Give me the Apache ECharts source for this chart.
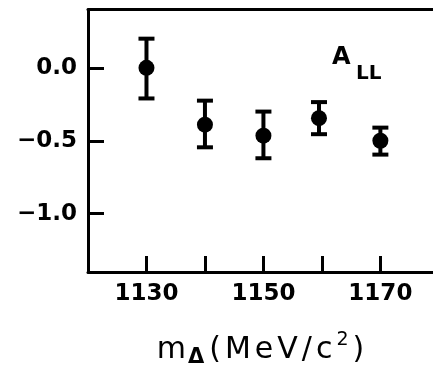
<!doctype html>
<html>
<head>
<meta charset="utf-8">
<title>A_LL vs mass</title>
<style>
html, body { margin: 0; padding: 0; background: #fff; }
#chart { width: 433px; height: 372px; }
</style>
</head>
<body>
<div id="chart"></div>
<script src="https://cdn.jsdelivr.net/npm/echarts@6/dist/echarts.min.js"></script>
<script>
// data
const mass = [1130, 1140, 1150, 1159.5, 1170];
const asym = [0.0, -0.39, -0.465, -0.345, -0.50];
const errLow = [-0.21, -0.545, -0.62, -0.455, -0.595];
const errHigh = [0.20, -0.225, -0.30, -0.235, -0.41];
const xTicks = [1130, 1140, 1150, 1160, 1170];
const xLabels = [1130, 1150, 1170];
const yTicks = [-1.0, -0.5, 0.0];

const font = 'DejaVu Sans';
const ink = '#000';

const chart = echarts.init(document.getElementById('chart'));

// axis title, letters spaced a little like the hand lettering
const nameStyle = { fontFamily: font, fontSize: 30, color: ink, lineHeight: 36, padding: [0, 2] };

chart.setOption({
    animation: false,
    grid: { left: 88, top: 9.5, right: 0, bottom: 100, outerBoundsMode: 'none', containLabel: false },
    xAxis: [{
        type: 'value',
        min: 1120,
        max: 1179,
        axisLine: { onZero: false, lineStyle: { color: ink, width: 3 } },
        axisTick: { customValues: xTicks, inside: true, length: 16, lineStyle: { color: ink, width: 3 } },
        axisLabel: {
            customValues: xLabels,
            margin: 11,
            color: ink,
            fontFamily: font,
            fontSize: 23,
            fontWeight: 'bold',
            formatter: v => String(v)
        },
        splitLine: { show: false },
        name: '{m|m}{d|Δ}{m|(}{m|M}{m|e}{m|V}{m|/}{m|c}{s|2}{m|)}',
        nameLocation: 'middle',
        nameGap: 60,
        nameTextStyle: {
            rich: {
                m: nameStyle,
                d: { fontFamily: font, fontSize: 21, color: ink, fontWeight: 'bold', lineHeight: 36, padding: [16, 3, 0, 0] },
                s: { fontFamily: font, fontSize: 19, color: ink, lineHeight: 36, padding: [0, 2, 20, 2] }
            }
        }
    }, {
        type: 'value',
        position: 'top',
        min: 1120,
        max: 1179,
        axisLine: { show: true, onZero: false, lineStyle: { color: ink, width: 3 } },
        axisTick: { show: false },
        axisLabel: { show: false },
        splitLine: { show: false }
    }],
    yAxis: {
        type: 'value',
        min: -1.4,
        max: 0.4,
        axisLine: { show: true, onZero: false, lineStyle: { color: ink, width: 3 } },
        axisTick: { customValues: yTicks, inside: true, length: 16, lineStyle: { color: ink, width: 3 } },
        axisLabel: {
            customValues: yTicks,
            margin: 11,
            color: ink,
            fontFamily: font,
            fontSize: 23,
            fontWeight: 'bold',
            formatter: v => v.toFixed(1).replace('-', '\u2212')
        },
        splitLine: { show: false }
    },
    graphic: [{
        type: 'text',
        left: 332,
        top: 46,
        style: { text: 'A', font: 'bold 24px "DejaVu Sans"', fill: ink }
    }, {
        type: 'text',
        left: 356,
        top: 64,
        style: { text: 'LL', font: 'bold 20px "DejaVu Sans"', fill: ink }
    }],
    series: [{
        type: 'custom',
        data: mass.map((m, i) => [m, errLow[i], errHigh[i]]),
        renderItem: function (params, api) {
            const lo = api.coord([api.value(0), api.value(1)]);
            const hi = api.coord([api.value(0), api.value(2)]);
            const w = 8;
            const style = { stroke: ink, lineWidth: 4 };
            return {
                type: 'group',
                children: [
                    { type: 'line', shape: { x1: lo[0], y1: lo[1], x2: hi[0], y2: hi[1] }, style: style },
                    { type: 'line', shape: { x1: lo[0] - w, y1: lo[1], x2: lo[0] + w, y2: lo[1] }, style: style },
                    { type: 'line', shape: { x1: hi[0] - w, y1: hi[1], x2: hi[0] + w, y2: hi[1] }, style: style }
                ]
            };
        },
        z: 2
    }, {
        type: 'scatter',
        data: mass.map((m, i) => [m, asym[i]]),
        symbol: 'circle',
        symbolSize: 16,
        itemStyle: { color: ink, opacity: 1 },
        z: 3
    }]
});
</script>
</body>
</html>
